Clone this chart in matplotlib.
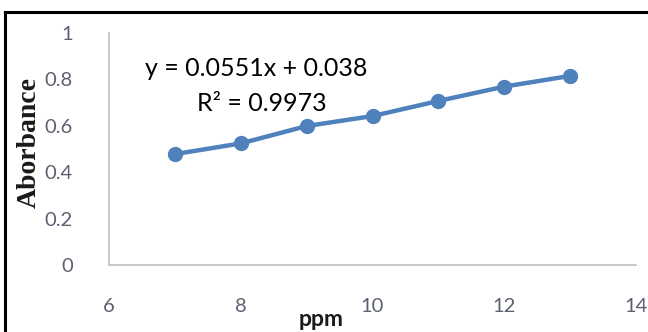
import matplotlib.pyplot as plt
from matplotlib.lines import Line2D

# Calibration curve
ppm = [7, 8, 9, 10, 11, 12, 13]
absorbance = [0.478, 0.524, 0.599, 0.642, 0.707, 0.769, 0.815]

x_ticks = [6, 8, 10, 12, 14]
y_ticks = [0, 0.2, 0.4, 0.6, 0.8, 1]
y_tick_labels = ["0", "0.2", "0.4", "0.6", "0.8", "1"]

fig = plt.figure(figsize=(6.48, 3.32), dpi=100)
ax = fig.add_axes([109 / 648, 1 - 265 / 332, (636 - 109) / 648, (265 - 33) / 332])

ax.plot(ppm, absorbance, color="#4f81bd", linewidth=3.2, marker="o",
        markersize=10, solid_capstyle="round")

ax.set_xlim(6, 14)
ax.set_ylim(0, 1)
ax.set_xticks(x_ticks)
ax.set_yticks(y_ticks)
ax.set_yticklabels(y_tick_labels)
ax.tick_params(axis="y", length=0, labelsize=14.5, colors="#5b6170", pad=26)
ax.tick_params(axis="x", length=0, labelsize=14.5, colors="#5b6170", pad=24)
for lbl in ax.get_xticklabels() + ax.get_yticklabels():
    lbl.set_family("Lato")

for side in ["top", "right"]:
    ax.spines[side].set_visible(False)
for side in ["left", "bottom"]:
    ax.spines[side].set_color("#bfbfbf")
    ax.spines[side].set_linewidth(1.2)

ax.text(145 / 648, 1 - 69 / 332, "y = 0.0551x + 0.038", transform=fig.transFigure,
        fontsize=18, family="Lato", color="black", va="center")
ax.text(197 / 648, 1 - 103 / 332, "R² = 0.9973", transform=fig.transFigure,
        fontsize=18, family="Lato", color="black", va="center")

# axis titles
fig.text(29 / 648, 1 - 142 / 332, "Aborbance", rotation=90, fontsize=20,
         family="Liberation Serif", weight="bold", color="#1a1a1a",
         ha="center", va="center")
fig.text(321 / 648, 1.5 / 332, "ppm", fontsize=16.5, family="Lato",
         weight="bold", color="#1a1a1a", ha="center", va="bottom")

# black frame of the screenshot
fig.add_artist(Line2D([5 / 648, 5 / 648], [0, 1 - 12 / 332], color="black",
                      linewidth=2.2, transform=fig.transFigure))
fig.add_artist(Line2D([5 / 648, 1], [1 - 12 / 332, 1 - 12 / 332], color="black",
                      linewidth=2.2, transform=fig.transFigure))

fig.savefig("out.png", dpi=100)
